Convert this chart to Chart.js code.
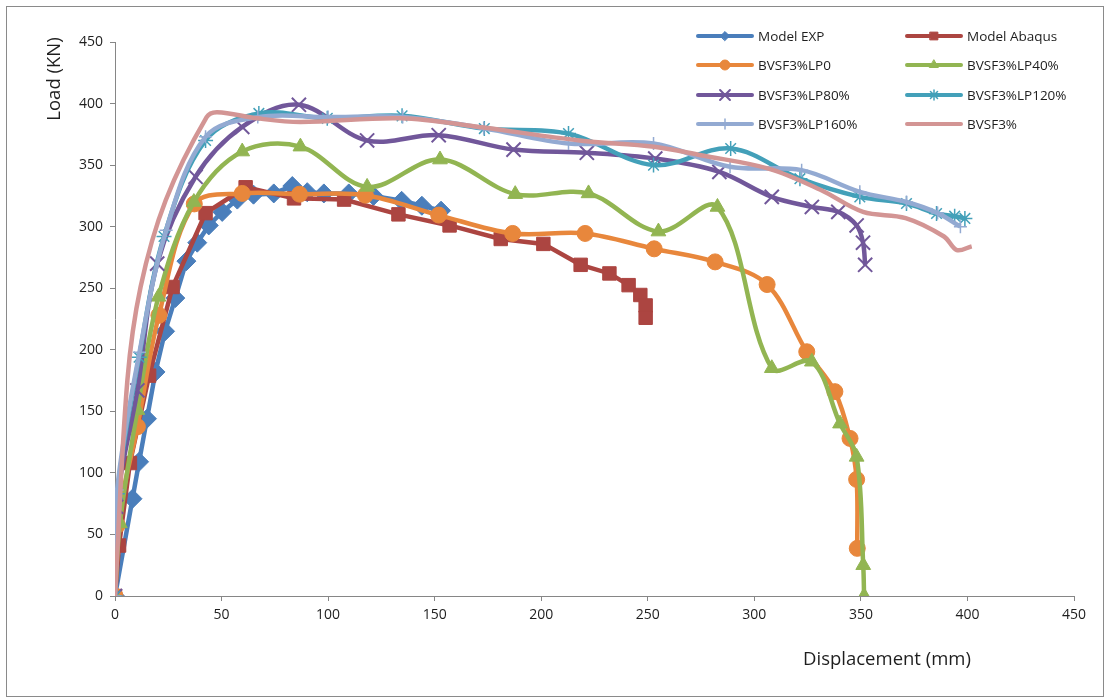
<!DOCTYPE html>
<html>
<head>
<meta charset="utf-8">
<script src="https://cdn.jsdelivr.net/npm/chart.js@4.4.1/dist/chart.umd.min.js"></script>
<style>
  html, body { margin: 0; padding: 0; background: #ffffff; }
  #wrap { width: 1110px; height: 700px; position: relative; }
</style>
</head>
<body>
<div id="wrap"><canvas id="chart" width="1110" height="700"></canvas></div>
<script>
// Load–displacement curves (displacement in mm, load in kN)
const seriesNames = ['Model EXP', 'Model Abaqus', 'BVSF3%LP0', 'BVSF3%LP40%',
                     'BVSF3%LP80%', 'BVSF3%LP120%', 'BVSF3%LP160%', 'BVSF3%'];

const expX = [0, 8.2, 11.3, 15, 19, 23.5, 28.3, 33.5, 38.6, 44, 50.3, 57.4, 65, 74.5, 83.2, 90.2, 98, 109.7, 121.3, 134.5, 144, 153];
const expY = [0, 79, 109, 144, 182, 215, 242, 272, 287, 301, 312, 322, 326, 327, 333, 328, 327, 327, 325, 321, 317, 313];

const abqX = [0, 1.9, 7, 16, 27, 42.5, 61.3, 84, 107.5, 133, 157, 181, 201, 218.5, 232, 241, 246.5, 249, 249];
const abqY = [0, 41, 108, 179, 251, 311, 332, 323, 322, 310, 301, 290, 286, 269, 262, 252.5, 244.5, 236, 226];

const lp0X = [0, 1.1, 10.5, 20.6, 37.2, 59.7, 86.6, 117.5, 151.9, 186.6, 220.6, 253, 281.6, 306, 324.6, 337.8, 344.9, 348, 348.3];
const lp0Y = [0, 57.6, 137.5, 228, 318.5, 327, 326.4, 325.6, 309.4, 294.5, 294.5, 282, 271.4, 253, 198.4, 166, 128, 94.7, 38.7];

const lp40X = [0, 2.3, 10.5, 20.4, 37, 59.7, 87, 118.3, 152.5, 187.8, 222.2, 255, 282.7, 308.2, 327, 340.2, 348, 351.1, 351.5];
const lp40Y = [0, 59, 151, 243, 320, 361, 365, 332.3, 354.5, 326.4, 327, 296, 316, 185, 190.3, 140, 113, 25, 0];

const lp80X = [0, 0.5, 10.5, 19.8, 37.8, 59.7, 86.3, 118.3, 151.9, 187, 221.4, 253.5, 283.6, 308.2, 327, 339.4, 348, 351, 352];
const lp80Y = [0, 72.5, 167, 270, 340.5, 381, 399, 370, 374.3, 362.6, 360, 355.3, 344.5, 324.2, 316, 312, 301, 287, 269];

const lp120X = [0, 1.1, 11.3, 23, 42.5, 67.5, 99.6, 134.7, 173.3, 212.8, 252.7, 288.9, 321.4, 349.5, 371.4, 385.5, 394, 398.8];
const lp120Y = [0, 83, 194, 292, 370, 392, 388, 390, 379.7, 375.6, 350, 363.5, 339, 324.2, 318.8, 310.7, 308.5, 306.7];

const lp160X = [0, 1, 11.5, 24, 42.5, 67, 100, 135, 173, 212.8, 252.7, 288.6, 322.2, 349.5, 371.4, 386, 396.7];
const lp160Y = [0, 86, 198, 297, 373, 389, 389, 389, 380, 367.5, 367.5, 348.6, 345.9, 328.3, 320, 311, 300];

const bvX = [0, 5.8, 12, 23.8, 43, 48, 66.7, 87, 134, 171, 218, 253, 275, 307, 331, 351, 371, 389, 395, 402];
const bvY = [0, 175, 251, 321.5, 389, 393, 388, 385, 388, 381, 370, 365, 358, 347, 330, 312, 307, 292, 281, 284];

// Axis tick labels
const dispTicks = [0, 50, 100, 150, 200, 250, 300, 350, 400, 450];
const loadTicks = [0, 50, 100, 150, 200, 250, 300, 350, 400, 450];

const pairs = (xs, ys) => xs.map((x, i) => ({ x: x, y: ys[i] }));

const styles = [
  { color: '#4A7EBB', point: 'rectRot',  r: 9.5, bw: 1,   tension: 0,    lr: 4.5 },
  { color: '#AC4541', point: 'rect',     r: 9.5, bw: 1,   tension: 0,    lr: 5.5 },
  { color: '#E8873C', point: 'circle',   r: 8,   bw: 1,   tension: 0.35, lr: 5 },
  { color: '#92B552', point: 'triangle', r: 8.5, bw: 1,   tension: 0.35, lr: 5 },
  { color: '#71579A', point: 'crossRot', r: 10,  bw: 2,   tension: 0.35, lr: 7 },
  { color: '#43A0B9', point: 'star',     r: 7.5, bw: 1.5, tension: 0.35, lr: 5 },
  { color: '#93AAD2', point: 'cross',    r: 6.5, bw: 1.5, tension: 0.35, lr: 5 },
  { color: '#D39594', point: 'circle',   r: 0,   bw: 0,   tension: 0.35, lr: 0 }
];

const seriesData = [pairs(expX, expY), pairs(abqX, abqY), pairs(lp0X, lp0Y), pairs(lp40X, lp40Y),
                    pairs(lp80X, lp80Y), pairs(lp120X, lp120Y), pairs(lp160X, lp160Y), pairs(bvX, bvY)];

const datasets = seriesNames.map((name, i) => ({
  label: name,
  data: seriesData[i],
  showLine: true,
  borderColor: styles[i].color,
  backgroundColor: styles[i].color,
  borderWidth: 4.5,
  tension: styles[i].tension,
  pointStyle: styles[i].point,
  pointRadius: styles[i].r,
  pointHoverRadius: styles[i].r,
  pointBorderWidth: styles[i].bw,
  pointBorderColor: styles[i].color,
  pointBackgroundColor: styles[i].color,
  order: seriesNames.length - i
}));

const FONT = "'Open Sans', 'DejaVu Sans', sans-serif";
const AXIS_GREY = '#868686';
const TEXT = '#1e1e1e';

// Outer frame and white background
const framePlugin = {
  id: 'frame',
  beforeDraw(chart) {
    const ctx = chart.ctx;
    ctx.save();
    ctx.fillStyle = '#ffffff';
    ctx.fillRect(0, 0, chart.width, chart.height);
    ctx.strokeStyle = '#8a8a8a';
    ctx.lineWidth = 1;
    ctx.strokeRect(6.5, 6.5, 1097, 690);
    ctx.restore();
  }
};

// Axis titles
const titlePlugin = {
  id: 'axisTitles',
  afterDraw(chart) {
    const ctx = chart.ctx;
    ctx.save();
    ctx.fillStyle = TEXT;
    ctx.font = "18.5px " + FONT;
    ctx.textAlign = 'center';
    ctx.textBaseline = 'middle';
    ctx.fillText('Displacement (mm)', 887, 660);
    ctx.translate(55, 79);
    ctx.rotate(-Math.PI / 2);
    ctx.fillText('Load (KN)', 0, 0);
    ctx.restore();
  }
};

// Two-column legend in the upper right corner
const legendPlugin = {
  id: 'twoColLegend',
  afterDraw(chart) {
    const ctx = chart.ctx;
    const rows = [36, 65, 95, 124];
    const cols = [698, 907];
    ctx.save();
    chart.data.datasets.forEach((ds, i) => {
      const st = styles[i];
      const x0 = cols[i % 2];
      const y = rows[Math.floor(i / 2)];
      ctx.strokeStyle = st.color;
      ctx.fillStyle = st.color;
      ctx.lineWidth = 4;
      ctx.lineCap = 'round';
      ctx.beginPath();
      ctx.moveTo(x0, y);
      ctx.lineTo(x0 + 54, y);
      ctx.stroke();
      if (st.lr > 0) {
        ctx.lineWidth = st.bw;
        Chart.helpers.drawPoint(ctx, { pointStyle: st.point, radius: st.lr, borderWidth: st.bw, rotation: 0 }, x0 + 27, y);
      }
      ctx.fillStyle = TEXT;
      ctx.font = "13.5px " + FONT;
      ctx.textAlign = 'left';
      ctx.textBaseline = 'middle';
      ctx.fillText(ds.label, x0 + 60, y + 1);
    });
    ctx.restore();
  }
};

const useTicks = (values) => (scale) => { scale.ticks = values.map(v => ({ value: v })); };

new Chart(document.getElementById('chart'), {
  type: 'scatter',
  data: { datasets: datasets },
  options: {
    responsive: false,
    animation: false,
    events: [],
    layout: { padding: { left: 0, right: 36, top: 42, bottom: 0 } },
    plugins: { legend: { display: false }, tooltip: { enabled: false } },
    scales: {
      x: {
        type: 'linear',
        min: 0, max: 450,
        afterBuildTicks: useTicks(dispTicks),
        afterFit: (s) => { s.height = 104; },
        border: { color: AXIS_GREY, width: 1 },
        grid: { drawOnChartArea: false, drawTicks: true, tickLength: 5, color: AXIS_GREY },
        ticks: { color: TEXT, font: { family: FONT, size: 14 }, padding: 6, maxRotation: 0 }
      },
      y: {
        type: 'linear',
        min: 0, max: 450,
        afterBuildTicks: useTicks(loadTicks),
        afterFit: (s) => { s.width = 115; },
        border: { color: AXIS_GREY, width: 1 },
        grid: { drawOnChartArea: false, drawTicks: true, tickLength: 5, color: AXIS_GREY },
        ticks: { color: TEXT, font: { family: FONT, size: 14 }, padding: 7 }
      }
    }
  },
  plugins: [framePlugin, titlePlugin, legendPlugin]
});
</script>
</body>
</html>
